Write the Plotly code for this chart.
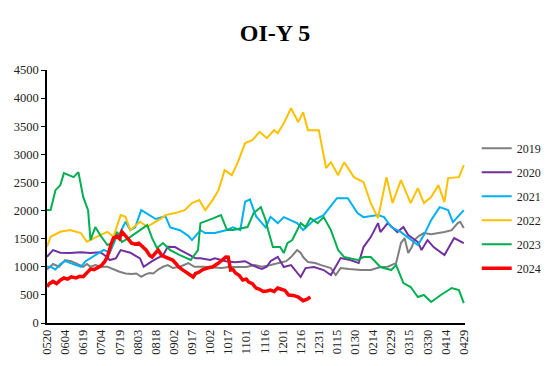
import plotly.graph_objects as go

tick_labels = ["0520", "0604", "0619", "0704", "0719", "0803", "0818", "0902", "0917",
               "1002", "1017", "1101", "1116", "1201", "1216", "1231", "0115", "0130",
               "0214", "0229", "0315", "0330", "0414", "0429"]
tick_days = [15 * i for i in range(len(tick_labels))]

years = ["2019", "2020", "2021", "2022", "2023", "2024"]

days_2019 = [0, 5, 10, 15, 20, 25, 30, 33, 36, 40, 45, 50, 55, 60, 65, 70, 74, 78, 82, 85, 88, 92, 96,
             100, 104, 110, 117, 122, 130, 137, 145, 150, 158, 165, 172, 178, 185, 193, 198, 202, 207,
             210, 212, 216, 222, 227, 235, 239, 243, 250, 260, 268, 276, 282, 289, 293, 296, 299, 302,
             304, 308, 312, 318, 329, 335, 340, 342, 345]
vals_2019 = [950, 1050, 1000, 1120, 1100, 1050, 1000, 1050, 1000, 1030, 1000, 1000, 950, 912, 880, 870,
             880, 823, 870, 889, 880, 950, 1000, 1030, 980, 1000, 1066, 1000, 1000, 995, 980, 995, 1000,
             995, 1030, 1000, 1030, 1066, 1100, 1173, 1297, 1250, 1173, 1084, 1066, 1030, 977, 853, 977,
             960, 942, 942, 995, 1000, 1066, 1422, 1510, 1244, 1350, 1475, 1550, 1600, 1580, 1617, 1650,
             1777, 1800, 1688]

days_2020 = [0, 5, 11, 19, 28, 36, 44, 48, 52, 57, 61, 65, 69, 73, 77, 80, 83, 87, 91, 96, 100, 106, 110,
             115, 119, 123, 127, 135, 139, 148, 156, 164, 168, 175, 178, 182, 185, 191, 196, 202, 210, 214,
             221, 229, 235, 243, 251, 258, 262, 268, 274, 276, 282, 290, 295, 299, 307, 310, 315, 320, 329,
             337, 345]
vals_2020 = [1178, 1297, 1250, 1244, 1260, 1244, 1260, 1200, 1120, 1150, 1297, 1280, 1250, 1200, 1150,
             1000, 1050, 1100, 1150, 1200, 1356, 1350, 1300, 1250, 1200, 1150, 1150, 1120, 1150, 1100,
             1080, 1100, 1050, 980, 960, 1000, 1100, 1178, 995, 1030, 818, 977, 995, 942, 853, 1155, 1120,
             1066, 1351, 1528, 1777, 1617, 1777, 1617, 1706, 1564, 1440, 1297, 1475, 1351, 1208, 1510, 1422]

days_2021 = [0, 3, 7, 11, 15, 22, 28, 32, 36, 44, 47, 52, 57, 61, 65, 69, 73, 78, 86, 90, 98, 102, 110,
             117, 120, 127, 131, 139, 148, 154, 160, 164, 168, 173, 177, 181, 185, 191, 196, 207, 212, 221,
             229, 240, 249, 257, 262, 274, 279, 285, 293, 301, 307, 312, 318, 325, 332, 336, 340, 345]
vals_2021 = [1000, 1000, 950, 1050, 1100, 1050, 1000, 1100, 1150, 1250, 1300, 1250, 1500, 1622, 1800,
             1650, 1700, 2008, 1900, 1850, 1900, 1700, 1650, 1550, 1475, 1650, 1600, 1600, 1650, 1700,
             1650, 2156, 2200, 1900, 1800, 1700, 1889, 1777, 1883, 1777, 1653, 1830, 1919, 2221, 2221,
             1955, 1883, 1919, 1883, 1706, 1617, 1475, 1386, 1564, 1830, 2061, 2008, 1795, 1883, 2008]

days_2022 = [0, 3, 11, 19, 28, 33, 44, 50, 55, 61, 65, 69, 77, 83, 88, 94, 98, 106, 114, 120, 126, 131,
             137, 142, 147, 153, 158, 164, 170, 176, 182, 188, 191, 196, 202, 208, 212, 216, 225, 231, 235,
             241, 246, 254, 262, 268, 274, 281, 286, 293, 301, 307, 312, 318, 324, 329, 332, 341, 345]
vals_2022 = [1356, 1533, 1622, 1653, 1600, 1445, 1564, 1622, 1533, 1919, 1889, 1653, 1800, 1711, 1777,
             1850, 1919, 1955, 2008, 2132, 2186, 2008, 2186, 2363, 2719, 2630, 2860, 3200, 3253, 3400,
             3287, 3430, 3376, 3554, 3820, 3572, 3750, 3430, 3430, 2754, 2860, 2630, 2860, 2594, 2505,
             2132, 1866, 2594, 2132, 2541, 2132, 2399, 2132, 2239, 2452, 2150, 2577, 2594, 2808]

days_2023 = [0, 3, 7, 11, 14, 22, 26, 30, 34, 36, 40, 44, 50, 55, 58, 62, 69, 77, 83, 87, 91, 96, 102,
             110, 119, 125, 127, 138, 144, 149, 154, 166, 171, 177, 181, 183, 187, 193, 196, 199, 203, 210,
             214, 218, 224, 229, 235, 241, 246, 257, 262, 268, 276, 285, 289, 295, 301, 307, 312, 318, 326,
             335, 341, 345]
vals_2023 = [2008, 2008, 2363, 2452, 2665, 2594, 2683, 2239, 2008, 1475, 1706, 1564, 1386, 1440, 1622,
             1440, 1533, 1653, 1742, 1510, 1333, 1422, 1297, 1208, 1120, 1297, 1777, 1866, 1919, 1653,
             1653, 1706, 1955, 2061, 1830, 1653, 1351, 1351, 1244, 1422, 1475, 1777, 1706, 1866, 1777,
             1883, 1653, 1297, 1173, 1120, 1173, 1173, 995, 942, 1030, 711, 640, 462, 498, 373, 498, 622,
             586, 355]

days_2024 = [0, 2, 5, 8, 11, 14, 17, 20, 24, 27, 30, 33, 36, 39, 42, 45, 48, 50, 53, 55, 58, 60, 62, 65,
             67, 70, 73, 76, 79, 82, 85, 87, 90, 92, 95, 98, 101, 104, 107, 109, 112, 115, 118, 121, 123,
             126, 129, 132, 135, 137, 140, 142, 145, 148, 150, 152, 154, 156, 159, 162, 165, 167, 170, 173,
             176, 179, 182, 185, 188, 191, 194, 197, 200, 204, 208, 212, 215, 218]
vals_2024 = [645, 700, 740, 700, 760, 800, 780, 820, 800, 830, 823, 900, 960, 950, 980, 1020, 1100, 1178,
             1400, 1510, 1540, 1500, 1622, 1560, 1500, 1420, 1400, 1420, 1350, 1300, 1200, 1173, 1250, 1297,
             1200, 1173, 1150, 1120, 1050, 995, 950, 906, 850, 818, 880, 906, 950, 977, 990, 995, 1030, 1066,
             1120, 1173, 1170, 942, 950, 889, 850, 764, 780, 729, 700, 622, 600, 560, 570, 586, 560, 622,
             600, 580, 498, 490, 462, 396, 420, 462]

series_days = [days_2019, days_2020, days_2021, days_2022, days_2023, days_2024]
series_vals = [vals_2019, vals_2020, vals_2021, vals_2022, vals_2023, vals_2024]
colors = ["#7F7F7F", "#7030A0", "#00B0F0", "#FFC000", "#00B050", "#FF0000"]
widths = [2, 2, 2, 2, 2, 3.5]

serif = "Liberation Serif, Times New Roman, serif"

fig = go.Figure()
for name, d, v, c, w in zip(years, series_days, series_vals, colors, widths):
    fig.add_trace(go.Scatter(x=d, y=v, mode="lines", name=name, legendgroup=name,
                             line=dict(color=c, width=w)))

fig.update_layout(
    width=550, height=366,
    margin=dict(l=47, r=85, t=70, b=43, autoexpand=False),
    paper_bgcolor="white", plot_bgcolor="white",
    title=dict(text="<b>OI-Y 5</b>", x=0.5, xanchor="center", y=0.91, yanchor="middle",
               font=dict(family=serif, size=24, color="black")),
    showlegend=True,
    legend=dict(x=1.028, xanchor="left", y=0.748, yanchor="top",
                font=dict(family=serif, size=12, color="#222"),
                tracegroupgap=5, itemwidth=30, bgcolor="rgba(0,0,0,0)"),
    font=dict(family=serif, color="#222"),
)
fig.update_xaxes(range=[0, 346], tickmode="array", tickvals=tick_days, ticktext=tick_labels,
                 tickangle=-90, showgrid=False, zeroline=False, showline=True, automargin=False,
                 linecolor="black", linewidth=1.5, ticks="", tickfont=dict(family=serif, size=12.5, color="#222"))
fig.update_yaxes(range=[0, 4500], dtick=500, showgrid=False, zeroline=False, showline=True, automargin=False,
                 linecolor="black", linewidth=1.5, ticks="outside", ticklen=4, tickcolor="black",
                 tickfont=dict(family=serif, size=12.5, color="#222"))

fig.write_html("out.html", config={"displayModeBar": False},
               post_script="document.body.style.margin='0';document.body.style.padding='0';")
